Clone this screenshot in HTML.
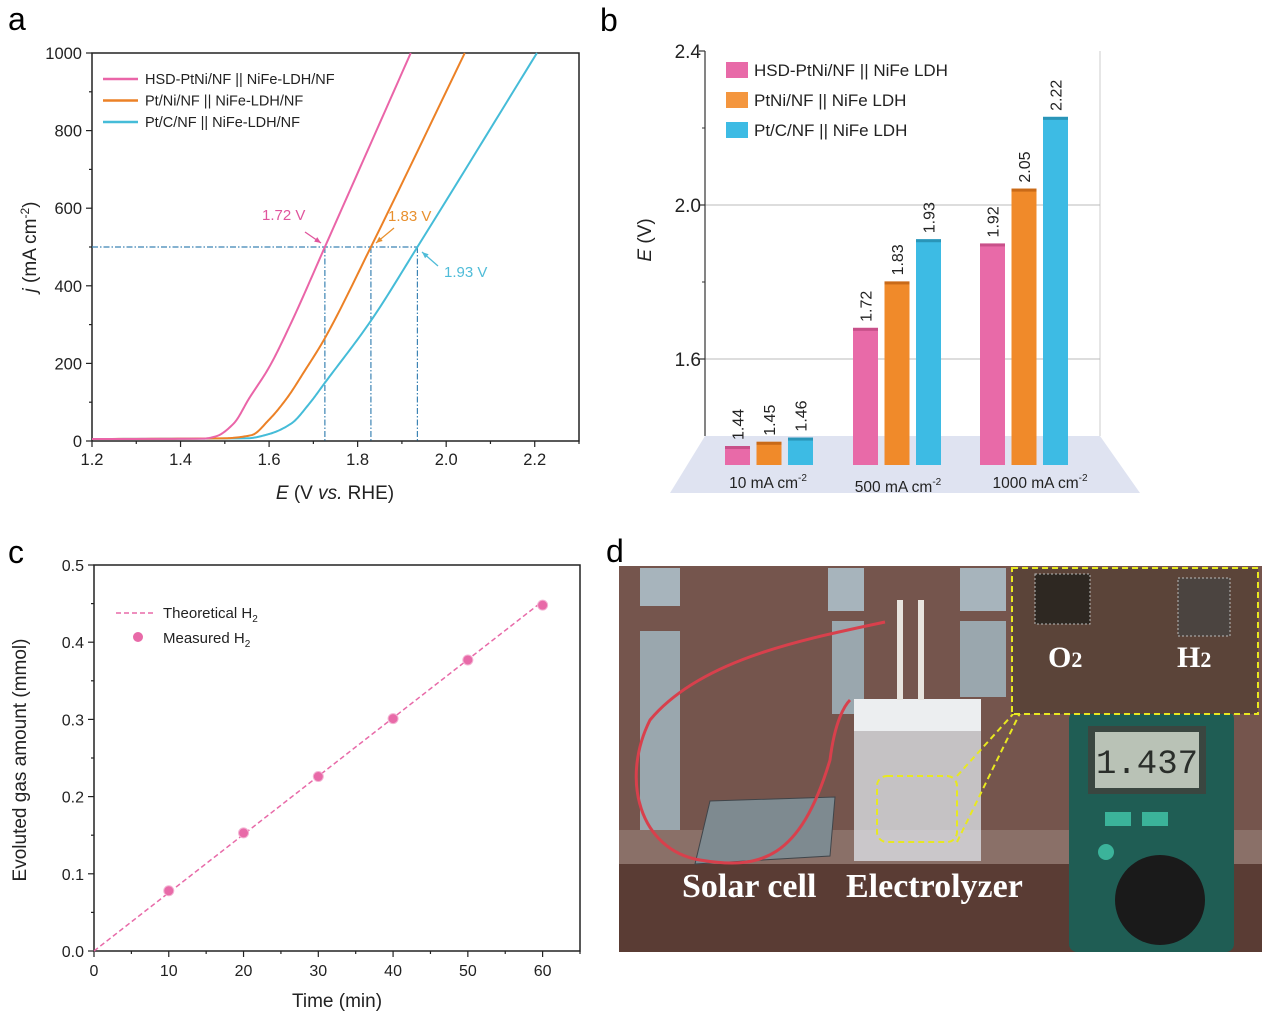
<!DOCTYPE html>
<html><head><meta charset="utf-8">
<style>
html,body{margin:0;padding:0;background:#fff;}
svg{display:block;font-family:"Liberation Sans",Arial,sans-serif;}
</style></head>
<body>
<svg id="fig" width="1268" height="1014" viewBox="0 0 1268 1014" xmlns="http://www.w3.org/2000/svg">
<text x="8" y="30" font-size="32">a</text>
<text x="600" y="31" font-size="32">b</text>
<text x="8" y="563" font-size="32">c</text>
<text x="606" y="562" font-size="32">d</text>
<g id="pa"></g>
<g id="pb"></g>
<g id="pc"></g>
<g id="pd">
  <rect x="619" y="566" width="643" height="386" fill="#6a4a41"/>
  <rect x="619" y="566" width="643" height="270" fill="#7a5a52" opacity="0.7"/>
  <rect x="640" y="568" width="40" height="38" fill="#a7b4bc"/>
  <rect x="640" y="631" width="40" height="200" fill="#9aa7ae"/>
  <rect x="828" y="568" width="36" height="43" fill="#a7b4bc"/>
  <rect x="832" y="621" width="32" height="93" fill="#9aa7ae"/>
  <rect x="960" y="568" width="46" height="43" fill="#a7b4bc"/>
  <rect x="960" y="621" width="46" height="76" fill="#9aa7ae"/>
  <rect x="619" y="830" width="643" height="36" fill="#8a7068"/>
  <rect x="619" y="864" width="643" height="88" fill="#5a3c34"/>
  <polygon points="710,801 835,797 830,856 695,864" fill="#7e8a90" stroke="#40454a"/>
  <rect x="854" y="699" width="127" height="162" fill="#d9dde2" opacity="0.8"/>
  <rect x="854" y="699" width="127" height="32" fill="#eceef0"/>
  <rect x="897" y="600" width="6" height="100" fill="#e8e4de"/>
  <rect x="918" y="600" width="6" height="100" fill="#e8e4de"/>
  <path d="M885,622 C800,640 700,660 650,720 C620,780 640,850 700,860 C760,870 800,860 830,760 C835,720 845,705 850,700" fill="none" stroke="#d8404c" stroke-width="3"/>
  <rect x="877" y="776" width="80" height="66" rx="10" fill="none" stroke="#e8e820" stroke-width="2" stroke-dasharray="6,4"/>
  <line x1="957" y1="776" x2="1014" y2="713" stroke="#e8e820" stroke-width="2" stroke-dasharray="6,4"/>
  <line x1="957" y1="842" x2="1020" y2="713" stroke="#e8e820" stroke-width="2" stroke-dasharray="6,4"/>
  <rect x="1069" y="711" width="165" height="241" rx="8" fill="#1f5d54"/>
  <rect x="1088" y="726" width="118" height="68" fill="#3a4640"/>
  <rect x="1095" y="732" width="104" height="56" fill="#b9c2b6"/>
  <text x="1147" y="773" font-size="34" text-anchor="middle" fill="#2a2e2a" font-family="Liberation Mono,monospace">1.437</text>
  <rect x="1105" y="812" width="26" height="14" fill="#3bb39a"/>
  <rect x="1142" y="812" width="26" height="14" fill="#3bb39a"/>
  <circle cx="1106" cy="852" r="8" fill="#3bb39a"/>
  <circle cx="1160" cy="900" r="45" fill="#1a1a1a"/>
  <rect x="1012" y="568" width="246" height="146" fill="#5b4439" stroke="#e8e820" stroke-width="2" stroke-dasharray="6,4"/>
  <rect x="1035" y="574" width="55" height="50" fill="#2e2822" stroke="#bbb" stroke-dasharray="2,2"/>
  <rect x="1178" y="578" width="52" height="58" fill="#4b4440" stroke="#bbb" stroke-dasharray="2,2"/>
  <text x="1048" y="667" font-size="30" font-weight="bold" fill="#fff" font-family="Liberation Serif,serif">O<tspan font-size="22">2</tspan></text>
  <text x="1177" y="667" font-size="30" font-weight="bold" fill="#fff" font-family="Liberation Serif,serif">H<tspan font-size="22">2</tspan></text>
  <text x="682" y="897" font-size="34" font-weight="bold" fill="#fff" font-family="Liberation Serif,serif">Solar cell</text>
  <text x="846" y="897" font-size="34" font-weight="bold" fill="#fff" font-family="Liberation Serif,serif">Electrolyzer</text>
</g>
</svg>
<script>
// ---------- Panel a data ----------
const aPinkE = [1.2,1.45,1.48,1.52,1.555,1.6,1.65,1.726,1.92];
const aPinkJ = [5,6,12,45,110,190,305,500,1000];
const aOrangeE = [1.2,1.5,1.56,1.6,1.64,1.68,1.726,1.83,2.042];
const aOrangeJ = [5,7,15,55,110,180,265,500,1000];
const aBlueE = [1.2,1.55,1.6,1.65,1.69,1.726,1.83,1.935,2.205];
const aBlueJ = [5,7,18,45,95,150,310,500,1000];
const aMarkE = [1.726,1.83,1.935];
const aXTicks = [1.2,1.4,1.6,1.8,2.0,2.2];
const aYTicks = [0,200,400,600,800,1000];
// ---------- Panel b data ----------
const bCategories = ["10 mA cm","500 mA cm","1000 mA cm"];
const bPink = [1.44,1.72,1.92];
const bOrange = [1.45,1.83,2.05];
const bBlue = [1.46,1.93,2.22];
const bYTicks = [1.6,2.0,2.4];
// ---------- Panel c data ----------
const cTime = [10,20,30,40,50,60];
const cMeasured = [0.078,0.153,0.226,0.301,0.377,0.448];
const cTheoT = [0,60];
const cTheoV = [0,0.453];
const cXTicks = [0,10,20,30,40,50,60];
const cYTicks = [0,0.1,0.2,0.3,0.4,0.5];

const NS="http://www.w3.org/2000/svg";
function mk(parent,tag,attrs,text){const e=document.createElementNS(NS,tag);for(const k in attrs)e.setAttribute(k,attrs[k]);if(text!==undefined)e.textContent=text;parent.appendChild(e);return e;}

// ===== Panel a =====
(function(){
const g=document.getElementById('pa');
const X0=92,X1=579,Y0=441,Y1=53;
const ax=v=>X0+(v-1.2)/(2.3-1.2)*(X1-X0);
const ay=v=>Y0-(v/1000)*(Y0-Y1);
let e=mk(g,'rect',{x:X0,y:Y1,width:X1-X0,height:Y0-Y1,fill:'none',stroke:'#222','stroke-width':1.5});


for(let v=1.2;v<=2.301;v+=0.1){const big=Math.abs(Math.round(v*10)%2)===0;
 e=mk(g,'line',{x1:ax(v),x2:ax(v),y1:Y0,y2:Y0+(big?6:3),stroke:'#222','stroke-width':1.2});
 
 }
for(let v=0;v<=1000;v+=100){const big=v%200===0;
 e=mk(g,'line',{x1:X0,x2:X0-(big?6:3),y1:ay(v),y2:ay(v),stroke:'#222','stroke-width':1.2});
 
 }
aXTicks.forEach(v=>{e=mk(g,'text',{x:ax(v),y:Y0+24,'font-size':16.5,'text-anchor':'middle',fill:'#222'},v.toFixed(1));
 
 });
aYTicks.forEach(v=>{e=mk(g,'text',{x:X0-10,y:ay(v)+6,'font-size':16.5,'text-anchor':'end',fill:'#222'},String(v));
 
 });
e=mk(g,'text',{x:335,y:499,'font-size':19,'text-anchor':'middle',fill:'#222'});
e.innerHTML='<tspan font-style="italic">E</tspan> (V <tspan font-style="italic">vs.</tspan> RHE)';


e=mk(g,'text',{x:0,y:0,'font-size':19,'text-anchor':'middle',fill:'#222',transform:'translate(36,247) rotate(-90)'});
e.innerHTML='<tspan font-style="italic">j</tspan> (mA cm<tspan font-size="12" dy="-7">-2</tspan><tspan dy="7">)</tspan>';


const gc='#3c84b4';
e=mk(g,'line',{x1:X0,x2:ax(aMarkE[2]),y1:ay(500),y2:ay(500),stroke:gc,'stroke-width':1.2,'stroke-dasharray':'6,2,1.5,2'});


aMarkE.forEach(v=>{e=mk(g,'line',{x1:ax(v),x2:ax(v),y1:ay(500),y2:Y0,stroke:gc,'stroke-width':1.2,'stroke-dasharray':'6,2,1.5,2'});
 
 });
// monotone cubic (Fritsch-Carlson) in data space, sampled
function curve(E,J,col,name){
 const n=E.length,d=[],m=new Array(n);
 for(let i=0;i<n-1;i++)d.push((J[i+1]-J[i])/(E[i+1]-E[i]));
 m[0]=d[0];m[n-1]=d[n-2];
 for(let i=1;i<n-1;i++){m[i]=(d[i-1]*d[i]<=0)?0:2/(1/d[i-1]+1/d[i]);}
 let path='';
 for(let i=0;i<n-1;i++){const h=E[i+1]-E[i];
  for(let k=0;k<=20;k++){const t=k/20,t2=t*t,t3=t2*t;
   const y=(2*t3-3*t2+1)*J[i]+(t3-2*t2+t)*h*m[i]+(-2*t3+3*t2)*J[i+1]+(t3-t2)*h*m[i+1];
   const x=E[i]+t*h;
   path+=(path?' L':'M')+ax(x).toFixed(2)+','+ay(y).toFixed(2);}}
 const el=mk(g,'path',{d:path,fill:'none',stroke:col,'stroke-width':2});
 
 }
curve(aBlueE,aBlueJ,'#45bcd8','curve-ptc');
curve(aOrangeE,aOrangeJ,'#ec8126','curve-ptni');
curve(aPinkE,aPinkJ,'#ea65a8','curve-hsd-ptni');
const ann=[['1.72 V','#e0559d',262,220,[305,232,321,243]],['1.83 V','#e8902e',388,221,[394,228,376,243]],['1.93 V','#4fbcd8',444,277,[438,266,422,252]]];
ann.forEach(a=>{e=mk(g,'text',{x:a[2],y:a[3],'font-size':15,fill:a[1]},a[0]);
 
 
 e=mk(g,'line',{x1:a[4][0],y1:a[4][1],x2:a[4][2],y2:a[4][3],stroke:a[1],'stroke-width':1.3});
 
 
 const ang=Math.atan2(a[4][3]-a[4][1],a[4][2]-a[4][0]);const tx=a[4][2],ty=a[4][3];
 e=mk(g,'polygon',{points:[tx,ty,tx-7*Math.cos(ang-0.4),ty-7*Math.sin(ang-0.4),tx-7*Math.cos(ang+0.4),ty-7*Math.sin(ang+0.4)].join(','),fill:a[1]});
 
 });
const leg=[['HSD-PtNi/NF || NiFe-LDH/NF','#ea65a8'],['Pt/Ni/NF || NiFe-LDH/NF','#ec8126'],['Pt/C/NF || NiFe-LDH/NF','#45bcd8']];
leg.forEach((l,i)=>{const y=79+i*21.5;
 e=mk(g,'line',{x1:103,x2:138,y1:y,y2:y,stroke:l[1],'stroke-width':2.5});
 
 
 e=mk(g,'text',{x:145,y:y+5,'font-size':14.5,fill:'#222'},l[0]);
 
 });
})();

// ===== Panel b =====
(function(){
const g=document.getElementById('pb');
const AX=705,RX=1100,TOP=51,FL=436;
const ty=v=>359-(v-1.6)/0.4*154;
const by=v=>465-(v-1.395)*422;
let e=mk(g,'polygon',{points:'705,436 1100,436 1140,493 670,493',fill:'#dfe3f1'});


e=mk(g,'line',{x1:RX,x2:RX,y1:TOP,y2:FL,stroke:'#ccc','stroke-width':1});


bYTicks.forEach(v=>{
 if(v<2.4){e=mk(g,'line',{x1:AX,x2:RX,y1:ty(v),y2:ty(v),stroke:'#bbb','stroke-width':1});
 
 }
 e=mk(g,'line',{x1:AX-6,x2:AX,y1:ty(v),y2:ty(v),stroke:'#333','stroke-width':1.2});
 
 
 e=mk(g,'text',{x:AX-4,y:ty(v)+7,'font-size':19,'text-anchor':'end',fill:'#222'},v.toFixed(1));
 
 });
[1.8,2.2].forEach(v=>{e=mk(g,'line',{x1:AX-3,x2:AX,y1:ty(v),y2:ty(v),stroke:'#333','stroke-width':1});
 
 });
e=mk(g,'line',{x1:AX,x2:AX,y1:TOP,y2:FL,stroke:'#333','stroke-width':1.2});


e=mk(g,'text',{x:0,y:0,'font-size':19,'text-anchor':'middle',fill:'#222',transform:'translate(651,240) rotate(-90)'});
e.innerHTML='<tspan font-style="italic">E</tspan> (V)';


const series=[[bPink,'#e86aa8','#c8508a'],[bOrange,'#f08a2a','#c96a18'],[bBlue,'#3dbbe4','#2a95b8']];
const gx=[725,853,980],bw=25,pitch=31.5;
bCategories.forEach((c,ci)=>{
 series.forEach((s,si)=>{const x=gx[ci]+si*pitch,y=by(s[0][ci]);
  e=mk(g,'rect',{x:x,y:y,width:bw,height:465-y,fill:s[1]});
  
  
  e=mk(g,'rect',{x:x,y:y,width:bw,height:3,fill:s[2]});
  
  
  e=mk(g,'text',{x:0,y:0,'font-size':16,fill:'#222',transform:'translate('+(x+bw/2+6)+','+(y-6)+') rotate(-90)'},s[0][ci].toFixed(2));
  
  });
 const cx=[768,898,1040][ci],cy=[488,492,488][ci];
 e=mk(g,'text',{x:cx,y:cy,'font-size':15.5,'text-anchor':'middle',fill:'#222'});
 e.innerHTML=c+'<tspan font-size="10" dy="-7">-2</tspan>';
 
 });
const leg=[['HSD-PtNi/NF || NiFe LDH','#e86aa8'],['PtNi/NF || NiFe LDH','#f4963e'],['Pt/C/NF || NiFe LDH','#3dbbe4']];
leg.forEach((l,i)=>{const y=62+i*30;
 e=mk(g,'rect',{x:726,y:y,width:22,height:16,fill:l[1]});
 
 
 e=mk(g,'text',{x:754,y:y+14,'font-size':17,fill:'#222'},l[0]);
 
 });
})();

// ===== Panel c =====
(function(){
const g=document.getElementById('pc');
const X0=94,X1=580,Y0=951,Y1=565;
const cx=v=>X0+v/65*(X1-X0);
const cy=v=>Y0-v/0.5*(Y0-Y1);
let e=mk(g,'rect',{x:X0,y:Y1,width:X1-X0,height:Y0-Y1,fill:'none',stroke:'#222','stroke-width':1.5});


for(let v=0;v<=65;v+=5){e=mk(g,'line',{x1:cx(v),x2:cx(v),y1:Y0,y2:Y0+(v%10===0?6:3),stroke:'#222','stroke-width':1.2});
 
 }
for(let k=0;k<=10;k++){const v=k*0.05;e=mk(g,'line',{x1:X0,x2:X0-(k%2===0?6:3),y1:cy(v),y2:cy(v),stroke:'#222','stroke-width':1.2});
 
 }
cXTicks.forEach(v=>{e=mk(g,'text',{x:cx(v),y:Y0+25,'font-size':16,'text-anchor':'middle',fill:'#222'},String(v));
 
 });
cYTicks.forEach(v=>{e=mk(g,'text',{x:X0-10,y:cy(v)+6,'font-size':16,'text-anchor':'end',fill:'#222'},v.toFixed(1));
 
 });
e=mk(g,'text',{x:337,y:1007,'font-size':19,'text-anchor':'middle',fill:'#222'},'Time (min)');


e=mk(g,'text',{x:0,y:0,'font-size':19,'text-anchor':'middle',fill:'#222',transform:'translate(26,760) rotate(-90)'},'Evoluted gas amount (mmol)');


e=mk(g,'line',{x1:cx(cTheoT[0]),y1:cy(cTheoV[0]),x2:cx(cTheoT[1]),y2:cy(cTheoV[1]),stroke:'#e86aa8','stroke-width':1.5,'stroke-dasharray':'5,3'});


cTime.forEach((t,i)=>{e=mk(g,'circle',{cx:cx(t),cy:cy(cMeasured[i]),r:5,fill:'#e86aa8',stroke:'#f3b3d3','stroke-width':1});
 
 });
e=mk(g,'line',{x1:116,x2:155,y1:613,y2:613,stroke:'#e86aa8','stroke-width':1.5,'stroke-dasharray':'5,3'});


e=mk(g,'text',{x:163,y:618,'font-size':15,fill:'#222'});
e.innerHTML='Theoretical H<tspan font-size="10" dy="4">2</tspan>';


e=mk(g,'circle',{cx:138,cy:637,r:5,fill:'#e86aa8'});


e=mk(g,'text',{x:163,y:643,'font-size':15,fill:'#222'});
e.innerHTML='Measured H<tspan font-size="10" dy="4">2</tspan>';


})();
</script>
</body></html>
